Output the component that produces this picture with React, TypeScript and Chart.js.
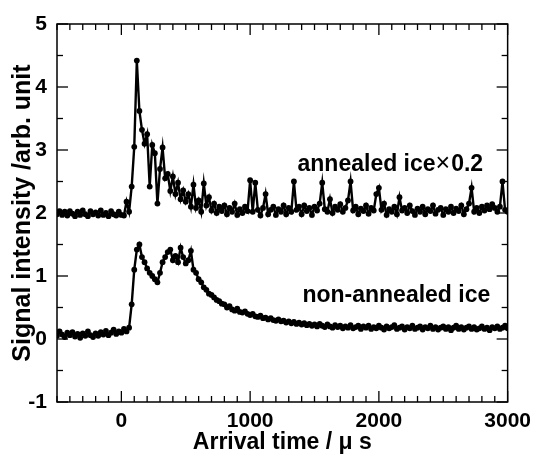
import React, { useEffect, useRef } from 'react';
import { Chart, registerables } from 'chart.js';

Chart.register(...registerables);

// Arrival time (µs)
const times = [
  -500, -480, -460, -440, -420, -400, -380, -360, -340, -320,
  -300, -280, -260, -240, -220, -200, -180, -160, -140, -120,
  -100, -80, -60, -40, -20, 0, 20, 40, 60, 80,
  100, 120, 140, 160, 180, 200, 220, 240, 260, 280,
  300, 320, 340, 360, 380, 400, 420, 440, 460, 480,
  500, 520, 540, 560, 580, 600, 620, 640, 660, 680,
  700, 720, 740, 760, 780, 800, 820, 840, 860, 880,
  900, 920, 940, 960, 980, 1000, 1020, 1040, 1060, 1080,
  1100, 1120, 1140, 1160, 1180, 1200, 1220, 1240, 1260, 1280,
  1300, 1320, 1340, 1360, 1380, 1400, 1420, 1440, 1460, 1480,
  1500, 1520, 1540, 1560, 1580, 1600, 1620, 1640, 1660, 1680,
  1700, 1720, 1740, 1760, 1780, 1800, 1820, 1840, 1860, 1880,
  1900, 1920, 1940, 1960, 1980, 2000, 2020, 2040, 2060, 2080,
  2100, 2120, 2140, 2160, 2180, 2200, 2220, 2240, 2260, 2280,
  2300, 2320, 2340, 2360, 2380, 2400, 2420, 2440, 2460, 2480,
  2500, 2520, 2540, 2560, 2580, 2600, 2620, 2640, 2660, 2680,
  2700, 2720, 2740, 2760, 2780, 2800, 2820, 2840, 2860, 2880,
  2900, 2920, 2940, 2960, 2980, 3000,
];

// annealed ice ×0.2 (offset +2)
const annealed = [
  1.98, 2.03, 1.97, 2.02, 1.96, 2.03, 1.99, 1.95, 2.02, 1.97,
  2.04, 1.98, 1.95, 2.03, 1.98, 2.01, 1.96, 2.04, 1.97, 2.00,
  1.95, 2.03, 1.98, 1.96, 2.02, 1.97, 1.96, 2.18, 2.02, 2.42,
  3.05, 4.42, 3.62, 3.32, 3.10, 3.25, 2.42, 3.08, 2.95, 2.15,
  2.70, 3.04, 2.55, 2.62, 2.35, 2.58, 2.30, 2.48, 2.22, 2.36,
  2.18, 2.30, 2.10, 2.45, 2.08, 2.20, 2.02, 2.47, 2.12, 2.25,
  2.04, 2.15, 2.00, 2.10, 2.03, 2.12, 1.98, 2.08, 2.02, 2.15,
  1.97, 2.06, 2.00, 2.10, 2.03, 2.52, 2.02, 2.48, 2.05, 1.96,
  2.08, 2.30, 1.98, 2.05, 2.10, 1.97, 2.06, 2.02, 2.12, 1.98,
  2.08, 2.02, 2.50, 2.05, 2.10, 1.98, 2.12, 2.03, 2.08, 1.97,
  2.10, 2.04, 2.15, 2.48, 2.06, 2.02, 2.22, 2.00, 2.10, 2.05,
  2.14, 2.02, 2.08, 2.20, 2.50, 2.04, 2.10, 1.98, 2.07, 2.03,
  2.12, 1.99, 2.08, 2.04, 2.30, 2.40, 2.05, 2.15, 1.97, 2.06,
  2.02, 2.10, 1.98, 2.25, 2.04, 2.08, 2.00, 2.12, 2.03, 1.97,
  2.07, 2.02, 2.10, 1.98, 2.06, 2.03, 2.12, 1.99, 2.05, 2.08,
  1.97, 2.06, 2.02, 2.10, 2.00, 2.07, 2.03, 2.12, 1.98, 2.06,
  2.15, 2.40, 2.02, 2.08, 2.00, 2.10, 2.04, 2.12, 2.06, 2.14,
  2.08, 2.02, 2.10, 2.50, 2.05, 2.02,
];

// non-annealed ice
const nonAnnealed = [
  0.05, 0.12, 0.07, 0.03, 0.10, 0.06, 0.11, 0.04, 0.08, 0.02,
  0.09, 0.05, 0.12, 0.06, 0.03, 0.09, 0.05, 0.11, 0.07, 0.13,
  0.06, 0.10, 0.15, 0.08, 0.12, 0.10, 0.16, 0.12, 0.18, 0.55,
  1.10, 1.42, 1.50, 1.30, 1.22, 1.12, 1.05, 1.00, 0.95, 0.90,
  1.05, 1.22, 1.30, 1.38, 1.42, 1.25, 1.32, 1.22, 1.45, 1.30,
  1.20, 1.25, 1.40, 1.10, 1.05, 0.95, 0.90, 0.82, 0.78, 0.72,
  0.70, 0.66, 0.62, 0.60, 0.56, 0.55, 0.50, 0.52, 0.47, 0.45,
  0.48, 0.43, 0.42, 0.44, 0.40, 0.38, 0.40, 0.36, 0.35, 0.37,
  0.33, 0.34, 0.31, 0.33, 0.30, 0.29, 0.31, 0.28, 0.29, 0.26,
  0.28, 0.25, 0.27, 0.24, 0.26, 0.23, 0.25, 0.22, 0.24, 0.21,
  0.23, 0.20, 0.24, 0.21, 0.19, 0.23, 0.20, 0.18, 0.22, 0.19,
  0.21, 0.17, 0.20, 0.18, 0.22, 0.17, 0.19, 0.21, 0.16, 0.20,
  0.18, 0.21, 0.16, 0.19, 0.17, 0.21, 0.18, 0.15, 0.20, 0.17,
  0.19, 0.22, 0.16, 0.18, 0.20, 0.15, 0.19, 0.17, 0.21, 0.16,
  0.18, 0.20, 0.15, 0.19, 0.17, 0.21, 0.16, 0.19, 0.15, 0.18,
  0.20, 0.16, 0.19, 0.14, 0.18, 0.21, 0.16, 0.19, 0.15, 0.18,
  0.20, 0.16, 0.19, 0.15, 0.17, 0.20, 0.16, 0.18, 0.14, 0.19,
  0.17, 0.20, 0.16, 0.18, 0.21, 0.17,
];

const xTickLabels = [0, 1000, 2000, 3000];
const yTickLabels = [-1, 0, 1, 2, 3, 4, 5];

const FONT = "'Liberation Sans', Arial, Helvetica, sans-serif";

const framePlugin = {
  id: 'frameTicks',
  afterDatasetsDraw(chart: any) {
    const { ctx, chartArea: a, scales } = chart;
    const x = scales.x;
    const y = scales.y;
    ctx.save();
    ctx.strokeStyle = '#000';
    ctx.lineWidth = 1.5;
    ctx.strokeRect(a.left, a.top, a.right - a.left, a.bottom - a.top);
    ctx.lineWidth = 1.3;
    const seg = (x1: number, y1: number, x2: number, y2: number) => {
      ctx.beginPath();
      ctx.moveTo(x1, y1);
      ctx.lineTo(x2, y2);
      ctx.stroke();
    };
    for (let v = -500; v <= 3000; v += 100) {
      const px = x.getPixelForValue(v);
      const len = v % 1000 === 0 ? 11 : 6;
      seg(px, a.bottom, px, a.bottom - len);
      seg(px, a.top, px, a.top + len);
    }
    for (let k = -2; k <= 10; k++) {
      const v = k / 2;
      const py = y.getPixelForValue(v);
      const len = k % 2 === 0 ? 11 : 6;
      seg(a.left, py, a.left + len, py);
      seg(a.right, py, a.right - len, py);
    }
    // annotations
    ctx.fillStyle = '#000';
    ctx.textBaseline = 'alphabetic';
    ctx.textAlign = 'left';
    let tx = x.getPixelForValue(1368);
    const ty1 = y.getPixelForValue(2.66);
    ctx.font = `bold 23px ${FONT}`;
    const part1 = 'annealed ice';
    ctx.fillText(part1, tx, ty1);
    tx += ctx.measureText(part1).width;
    ctx.font = `25px ${FONT}`;
    ctx.fillText('×', tx, ty1);
    tx += ctx.measureText('×').width + 1;
    ctx.font = `bold 23px ${FONT}`;
    ctx.fillText('0.2', tx, ty1);

    const tx2 = x.getPixelForValue(1406);
    const ty2 = y.getPixelForValue(0.59);
    ctx.fillText('non-annealed ice', tx2, ty2);
    ctx.restore();
  },
};

export default function App() {
  const canvasRef = useRef<HTMLCanvasElement | null>(null);

  useEffect(() => {
    const canvas = canvasRef.current;
    if (!canvas) return;
    Chart.defaults.color = '#000';
    const mk = (vals: number[]) => vals.map((v, i) => ({ x: times[i], y: v }));
    const ds = (label: string, vals: number[]) => ({
      label,
      data: mk(vals),
      borderColor: '#000',
      backgroundColor: '#000',
      borderWidth: 2.4,
      pointRadius: 2.9,
      pointBorderWidth: 0,
      pointBackgroundColor: '#000',
      tension: 0,
    });
    const chart = new Chart(canvas, {
      type: 'line',
      data: {
        datasets: [ds('annealed ice ×0.2', annealed), ds('non-annealed ice', nonAnnealed)],
      },
      options: {
        animation: false,
        responsive: false,
        maintainAspectRatio: false,
        layout: { padding: { top: 24, right: 29, left: 0, bottom: 0 } },
        plugins: {
          legend: { display: false },
          tooltip: { enabled: false },
        },
        scales: {
          x: {
            type: 'linear',
            min: -500,
            max: 3000,
            afterBuildTicks: (scale: any) => {
              scale.ticks = xTickLabels.map((v) => ({ value: v }));
            },
            afterFit: (scale: any) => {
              scale.height = 53;
            },
            grid: { display: false, drawTicks: false },
            border: { display: false },
            ticks: {
              padding: 7,
              maxRotation: 0,
              autoSkip: false,
              callback: (v: any) => String(v),
              font: { family: FONT, size: 21, weight: 'bold' },
              color: '#000',
            },
            title: {
              display: true,
              text: 'Arrival time / μ s',
              font: { family: FONT, size: 23, weight: 'bold' },
              color: '#000',
              padding: { top: 0, bottom: -1 },
            },
          },
          y: {
            type: 'linear',
            min: -1,
            max: 5,
            afterBuildTicks: (scale: any) => {
              scale.ticks = yTickLabels.map((v) => ({ value: v }));
            },
            afterFit: (scale: any) => {
              scale.width = 57;
            },
            grid: { display: false, drawTicks: false },
            border: { display: false },
            ticks: {
              padding: 10,
              autoSkip: false,
              callback: (v: any) => String(v),
              font: { family: FONT, size: 21, weight: 'bold' },
              color: '#000',
            },
            title: {
              display: true,
              text: 'Signal intensity /arb. unit',
              font: { family: FONT, size: 25, weight: 'bold' },
              color: '#000',
              padding: { top: 8, bottom: 0 },
            },
          },
        },
      },
      plugins: [framePlugin],
    } as any);
    return () => chart.destroy();
  }, []);

  return (
    <div style={{ position: 'fixed', left: 0, top: 0, width: 538, height: 455, background: '#fff' }}>
      <canvas ref={canvasRef} width={538} height={455} style={{ width: 538, height: 455, display: 'block' }} />
    </div>
  );
}
